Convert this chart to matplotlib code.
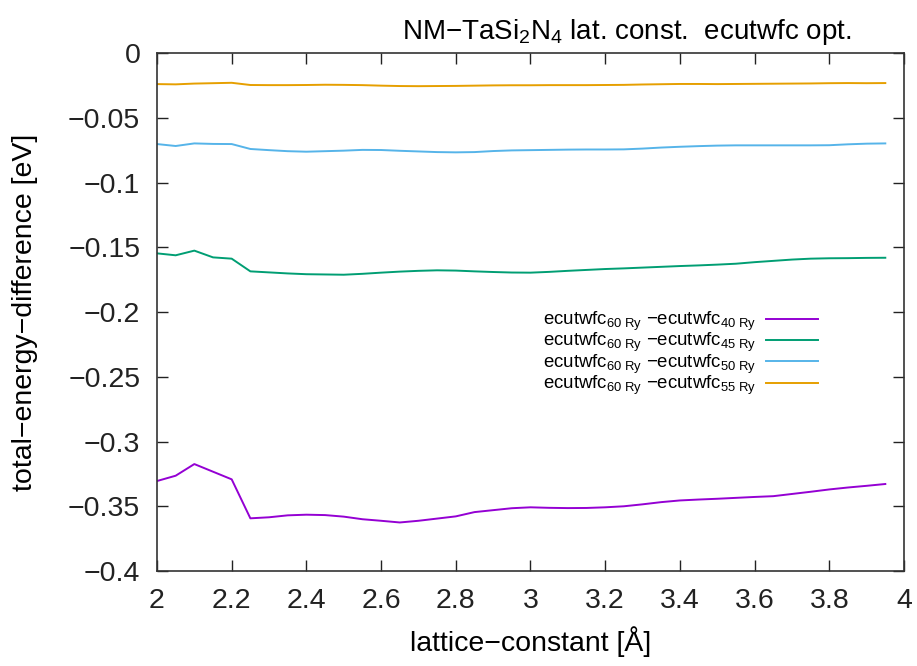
import numpy as np
import matplotlib
matplotlib.use('Agg')
from matplotlib import pyplot as plt
from matplotlib.ticker import FuncFormatter, MultipleLocator

plt.rcParams['font.family'] = ['Liberation Sans', 'DejaVu Sans']
plt.rcParams['mathtext.fontset'] = 'custom'
plt.rcParams['mathtext.rm'] = 'Liberation Sans'
plt.rcParams['mathtext.it'] = 'Liberation Sans'

# lattice constants (Angstrom)
lattice = [2.00, 2.05, 2.10, 2.15, 2.20, 2.25, 2.30, 2.35, 2.40, 2.45,
           2.50, 2.55, 2.60, 2.65, 2.70, 2.75, 2.80, 2.85, 2.90, 2.95,
           3.00, 3.05, 3.10, 3.15, 3.20, 3.25, 3.30, 3.35, 3.40, 3.45,
           3.50, 3.55, 3.60, 3.65, 3.70, 3.75, 3.80, 3.85, 3.90, 3.95]

# energy differences E(60 Ry) - E(x Ry) in eV
diff_40 = [-0.3305, -0.3264, -0.3174, -0.3233, -0.3292, -0.3593, -0.3585, -0.3570, -0.3565, -0.3568,
           -0.3580, -0.3600, -0.3612, -0.3625, -0.3612, -0.3595, -0.3578, -0.3545, -0.3530, -0.3515,
           -0.3508, -0.3512, -0.3514, -0.3513, -0.3508, -0.3500, -0.3485, -0.3468, -0.3455, -0.3448,
           -0.3442, -0.3435, -0.3428, -0.3422, -0.3405, -0.3388, -0.3370, -0.3355, -0.3342, -0.3328]
diff_45 = [-0.1547, -0.1562, -0.1526, -0.1578, -0.1588, -0.1686, -0.1694, -0.1702, -0.1708, -0.1710,
           -0.1712, -0.1705, -0.1696, -0.1688, -0.1682, -0.1678, -0.1680, -0.1686, -0.1691, -0.1695,
           -0.1696, -0.1690, -0.1682, -0.1675, -0.1668, -0.1663, -0.1657, -0.1651, -0.1645, -0.1640,
           -0.1634, -0.1627, -0.1615, -0.1605, -0.1595, -0.1588, -0.1585, -0.1584, -0.1582, -0.1581]
diff_50 = [-0.0703, -0.0718, -0.0698, -0.0702, -0.0703, -0.0741, -0.0750, -0.0758, -0.0762, -0.0758,
           -0.0754, -0.0748, -0.0749, -0.0755, -0.0760, -0.0765, -0.0767, -0.0765, -0.0757, -0.0752,
           -0.0750, -0.0748, -0.0746, -0.0745, -0.0745, -0.0744, -0.0738, -0.0730, -0.0724, -0.0719,
           -0.0715, -0.0713, -0.0713, -0.0713, -0.0713, -0.0713, -0.0712, -0.0705, -0.0700, -0.0698]
diff_55 = [-0.0240, -0.0242, -0.0236, -0.0233, -0.0230, -0.0247, -0.0248, -0.0248, -0.0247, -0.0245,
           -0.0246, -0.0248, -0.0252, -0.0255, -0.0256, -0.0255, -0.0254, -0.0252, -0.0250, -0.0249,
           -0.0249, -0.0248, -0.0248, -0.0248, -0.0247, -0.0246, -0.0243, -0.0241, -0.0239, -0.0239,
           -0.0240, -0.0239, -0.0238, -0.0237, -0.0236, -0.0235, -0.0233, -0.0232, -0.0233, -0.0232]

cutoffs = ['40', '45', '50', '55']
series = [diff_40, diff_45, diff_50, diff_55]
colors = ['#9400d3', '#009e73', '#56b4e9', '#e69f00']

fig = plt.figure(figsize=(9.17, 6.66), dpi=100)
ax = fig.add_axes([0.1712, 0.1426, 0.8146, 0.7778])

for cut, vals, col in zip(cutoffs, series, colors):
    label = r'ecutwfc$_{\mathrm{60\ Ry}}$ −ecutwfc$_{\mathrm{' + cut + r'\ Ry}}$'
    ax.plot(lattice, vals, color=col, lw=1.4, label=label)

ax.set_xlim(2, 4)
ax.set_ylim(-0.4, 0)
ax.xaxis.set_major_locator(MultipleLocator(0.2))
ax.yaxis.set_major_locator(MultipleLocator(0.05))
fmt = FuncFormatter(lambda v, p: ('%g' % round(v, 4)).replace('-', '−'))
ax.xaxis.set_major_formatter(fmt)
ax.yaxis.set_major_formatter(fmt)
ax.tick_params(direction='in', top=True, right=True, length=8, width=1,
               labelsize=20.5, pad=12, colors='#222222')
for s in ax.spines.values():
    s.set_linewidth(1.2)
    s.set_color('#333333')

ax.set_xlabel('lattice−constant [Å]', fontsize=20.5, va='top')
ax.xaxis.set_label_coords(0.5, -0.106)
ax.set_ylabel('total−energy−difference [eV]', fontsize=20.5)
ax.yaxis.set_label_coords(-0.159, 0.5)
ax.set_title(r'NM−TaSi$_2$N$_4$ lat. const.  ecutwfc opt.', fontsize=20,
             x=0.629, y=1.0, pad=10)

ax.legend(loc='center right', bbox_to_anchor=(0.885, 0.42), frameon=False,
          fontsize=13.4, markerfirst=False, handlelength=2.8, labelspacing=-0.1,
          borderaxespad=0, borderpad=0, handletextpad=0.5)

fig.savefig('out.png', dpi=100)
